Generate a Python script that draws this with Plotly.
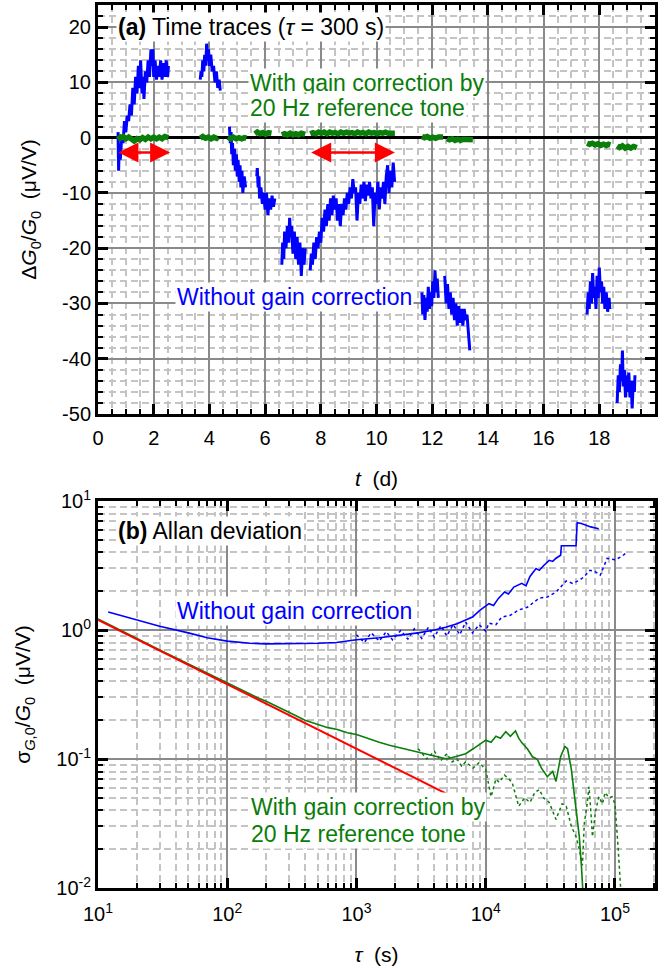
import plotly.graph_objects as go

# ---------------- Panel (a): time traces ----------------
# Blue (without gain correction) segments: (t in days, dG/G in uV/V)
b1_t = [0.72, 0.74, 0.76, 0.80, 0.85, 0.90, 0.95, 1.00, 1.05, 1.10, 1.15, 1.20, 1.25, 1.30, 1.35, 1.40, 1.45, 1.50, 1.53, 1.58, 1.62, 1.65, 1.70, 1.75, 1.80, 1.85, 1.90, 1.93, 1.97, 2.00, 2.05, 2.10, 2.15, 2.20, 2.25, 2.30, 2.35, 2.40, 2.45, 2.50, 2.53]
b1_v = [1, -6, -2, -4, 0, -1, 3, 1, 4, 3, 6, 4, 9, 6, 11, 8, 13, 9, 14, 8, 11, 7, 12, 10, 14, 11, 16, 13, 16, 11, 14, 10.5, 13, 11, 14, 10.5, 13.5, 11, 14, 11, 13]
b2_t = [3.67, 3.70, 3.73, 3.76, 3.80, 3.83, 3.87, 3.90, 3.93, 3.97, 4.00, 4.05, 4.10, 4.15, 4.20, 4.25, 4.30, 4.35, 4.39]
b2_v = [10.5, 12, 11, 14, 12, 15, 13, 17, 14, 16, 13, 15, 12, 13, 10, 12, 9, 10.5, 8.5]
b3_t = [4.72, 4.75, 4.78, 4.80, 4.83, 4.86, 4.90, 4.93, 4.97, 5.00, 5.03, 5.07, 5.10, 5.13, 5.17, 5.20, 5.25, 5.30]
b3_v = [2, -1, 1, -3, -1, -5, -2, -6, -3, -7, -4, -8, -5, -9, -6, -10, -7, -9]
b4_t = [5.70, 5.72, 5.75, 5.78, 5.80, 5.85, 5.90, 5.95, 6.00, 6.05, 6.10, 6.15, 6.20, 6.25, 6.30, 6.35]
b4_v = [-7, -5.5, -9, -7, -11, -9, -12, -10, -13, -10, -14, -11, -13, -10.5, -12.5, -11]
b5_t = [6.60, 6.63, 6.67, 6.70, 6.75, 6.80, 6.85, 6.88, 6.92, 6.95, 7.00, 7.05, 7.10, 7.15, 7.20, 7.25, 7.30, 7.35, 7.40, 7.44]
b5_v = [-23, -19, -22, -17, -20, -16, -19, -14.5, -18, -16, -21, -17, -22, -18, -23, -19, -25, -20, -23, -20]
b6_t = [7.62, 7.66, 7.70, 7.75, 7.80, 7.85, 7.90, 7.95, 8.00, 8.05, 8.10, 8.15, 8.20, 8.25, 8.30, 8.35, 8.40, 8.45, 8.50, 8.55, 8.60, 8.65, 8.70, 8.75, 8.80, 8.85, 8.90, 8.95, 9.00, 9.05, 9.10, 9.15, 9.20, 9.25, 9.30, 9.35, 9.40, 9.45, 9.50, 9.55, 9.60, 9.65, 9.70, 9.75, 9.80, 9.85, 9.90, 9.95, 10.00, 10.05, 10.10, 10.15, 10.20, 10.25, 10.30, 10.35, 10.40, 10.45, 10.50, 10.55, 10.60, 10.65]
b6_v = [-24, -21, -23, -19, -22, -18, -20, -17, -19, -14.5, -17, -13, -16, -12, -15, -11, -14, -10.5, -13, -11, -15, -12, -16, -12, -14, -11, -13, -10, -12, -9, -11, -7.5, -10, -9, -15, -10, -12, -8.5, -11, -8, -11.5, -8.5, -10.5, -8, -11, -9, -16, -10, -12, -8, -13, -9, -11, -8, -12, -7, -5, -10, -6, -9, -4.5, -8]
b7_t = [11.63, 11.66, 11.70, 11.74, 11.78, 11.82, 11.86, 11.90, 11.94, 11.98, 12.02, 12.06, 12.10, 12.14, 12.18, 12.22]
b7_v = [-28, -32, -28.5, -33, -29, -31.5, -27, -31, -28, -30.5, -26, -29, -24, -28, -25.5, -29]
b8_t = [12.45, 12.50, 12.55, 12.60, 12.65, 12.70, 12.75, 12.80, 12.85, 12.90, 12.95, 13.00, 13.05, 13.10, 13.15, 13.20, 13.25, 13.30, 13.35]
b8_v = [-25, -30, -26.5, -31, -28, -32, -29, -33, -30, -34, -30.5, -33.5, -31, -34, -31, -33, -32, -36, -38.5]
b9_t = [17.56, 17.60, 17.64, 17.68, 17.72, 17.76, 17.80, 17.84, 17.88, 17.92, 17.96, 18.00, 18.04, 18.08, 18.12, 18.16, 18.20, 18.25, 18.30, 18.35, 18.38]
b9_v = [-32, -28, -31, -26, -30, -24.5, -29, -27, -31, -25, -29, -23.5, -28, -26, -30, -27, -31, -28, -31.5, -29, -31]
b10_t = [18.64, 18.68, 18.72, 18.76, 18.80, 18.83, 18.86, 18.90, 18.94, 18.98, 19.02, 19.06, 19.10, 19.14, 19.18, 19.22, 19.26, 19.28]
b10_v = [-48, -43, -46, -41, -44, -38.5, -45, -42, -47, -43, -46, -42.5, -47, -44, -49, -44, -46, -43]

# Green (with gain correction) segments
g1_t = [0.72, 0.80, 0.90, 1.00, 1.10, 1.20, 1.30, 1.40, 1.50, 1.60, 1.70, 1.80, 1.90, 2.00, 2.10, 2.20, 2.30, 2.40, 2.53]
g1_v = [0.4, -0.1, 0.2, -0.2, 0.1, -0.4, -0.6, -0.2, -0.4, 0.0, -0.3, 0.1, -0.2, 0.1, -0.2, 0.1, -0.2, 0.2, 0.0]
g2_t = [3.67, 3.76, 3.86, 3.96, 4.06, 4.16, 4.26, 4.30]
g2_v = [-0.1, 0.2, -0.1, 0.1, -0.2, 0.1, -0.1, 0.1]
g3_t = [4.67, 4.76, 4.86, 4.96, 5.06, 5.16, 5.26, 5.33]
g3_v = [0.1, -0.2, 0.1, -0.2, 0.0, -0.2, 0.0, -0.1]
g4_t = [5.63, 5.72, 5.82, 5.92, 6.02, 6.12, 6.23]
g4_v = [0.7, 1.0, 0.7, 0.9, 0.6, 0.9, 0.8]
g5_t = [6.60, 6.70, 6.80, 6.90, 7.00, 7.10, 7.20, 7.30, 7.44]
g5_v = [0.5, 0.7, 0.5, 0.8, 0.5, 0.7, 0.5, 0.8, 0.6]
g6_t = [7.62, 7.72, 7.82, 7.92, 8.02, 8.12, 8.22, 8.32, 8.42, 8.52, 8.62, 8.72, 8.82, 8.92, 9.02, 9.12, 9.22, 9.32, 9.42, 9.52, 9.62, 9.72, 9.82, 9.92, 10.02, 10.12, 10.22, 10.32, 10.42, 10.52, 10.66]
g6_v = [0.7, 0.9, 0.7, 1.0, 0.8, 1.0, 0.7, 1.0, 0.8, 0.9, 0.7, 1.0, 0.8, 1.0, 0.8, 0.9, 0.7, 1.0, 0.8, 0.9, 0.7, 1.0, 0.8, 0.9, 0.7, 0.9, 0.8, 1.0, 0.8, 0.9, 0.8]
g7_t = [11.63, 11.72, 11.82, 11.92, 12.02, 12.12, 12.22, 12.32, 12.39]
g7_v = [0.2, 0.0, 0.2, -0.1, 0.1, -0.1, 0.1, 0.0, 0.1]
g8_t = [12.53, 12.62, 12.72, 12.82, 12.92, 13.02, 13.12, 13.22, 13.32, 13.46]
g8_v = [-0.2, -0.4, -0.2, -0.5, -0.3, -0.5, -0.3, -0.4, -0.3, -0.4]
g9_t = [17.56, 17.65, 17.75, 17.85, 17.95, 18.05, 18.15, 18.25, 18.33, 18.40]
g9_v = [-1.0, -1.2, -1.0, -1.3, -1.1, -1.4, -1.2, -1.4, -1.2, -1.3]
g10_t = [18.64, 18.73, 18.83, 18.93, 19.03, 19.13, 19.23, 19.35]
g10_v = [-1.5, -1.8, -1.5, -1.9, -1.6, -1.9, -1.6, -1.8]

# Red double arrows (t range, level)
arrow_t0 = [0.68, 7.60]
arrow_t1 = [2.59, 10.66]
arrow_v = [-2.7, -2.7]

# Tick labels (hyphen-minus as in the reference)
top_y_ticks = [-50, -40, -30, -20, -10, 0, 10, 20]
top_y_text = ["-50", "-40", "-30", "-20", "-10", "0", "10", "20"]
top_x_ticks = [0, 2, 4, 6, 8, 10, 12, 14, 16, 18, 20]
bot_x_ticks = [10, 100, 1000, 10000, 100000]
bot_x_text = ["10<sup>1</sup>", "10<sup>2</sup>", "10<sup>3</sup>", "10<sup>4</sup>", "10<sup>5</sup>"]
bot_y_ticks = [0.01, 0.1, 1, 10]
bot_y_text = ["10<sup>-2</sup>", "10<sup>-1</sup>", "10<sup>0</sup>", "10<sup>1</sup>"]

# ---------------- Panel (b): Allan deviation ----------------
blueA_tau = [12, 15, 20, 30, 50, 70, 100, 150, 200, 300, 500, 700, 1000, 1500, 2000, 3000, 4000, 4900, 6000, 7000, 7900, 9000, 10600, 11500, 12500, 14000, 15000, 16500, 19000, 20500, 22000, 24500, 26000, 28000, 31000, 33000, 35000, 38000, 38500, 45000, 50000, 51000, 55000, 65000, 75000]
blueA_sig = [1.38, 1.30, 1.20, 1.07, 0.95, 0.87, 0.82, 0.79, 0.78, 0.78, 0.79, 0.80, 0.84, 0.87, 0.90, 0.95, 1.00, 1.05, 1.12, 1.20, 1.26, 1.42, 1.60, 1.55, 1.75, 1.97, 1.90, 2.15, 2.30, 2.20, 2.60, 3.00, 2.90, 3.15, 3.47, 3.40, 3.60, 3.80, 4.50, 4.50, 4.50, 6.80, 6.70, 6.30, 6.10]
blueB_tau = [1000, 1150, 1300, 1500, 1700, 1900, 2200, 2500, 2800, 3200, 3600, 4000, 4500, 5000, 5600, 6300, 7000, 7900, 8900, 10000, 10600, 12000, 13300, 15500, 18000, 21000, 26000, 30000, 35000, 42000, 47000, 53000, 58000, 64000, 70000, 77000, 87000, 100000, 112000, 124000]
blueB_sig = [0.92, 0.80, 0.95, 0.82, 0.97, 0.84, 0.99, 0.85, 1.02, 0.86, 1.05, 0.88, 1.08, 0.90, 1.10, 0.92, 1.15, 0.95, 1.10, 0.98, 1.13, 1.10, 1.26, 1.30, 1.43, 1.50, 1.77, 1.80, 1.97, 2.40, 2.30, 2.43, 2.60, 2.90, 2.85, 2.66, 3.60, 3.50, 3.70, 4.00]
greenA_tau = [10, 15, 20, 30, 50, 70, 100, 130, 170, 200, 250, 300, 400, 500, 600, 700, 850, 1000, 1200, 1500, 1800, 2200, 2700, 3300, 4000, 5000, 6000, 7000, 8000, 9000, 10000, 11000, 12000, 13000, 14300, 15500, 17000, 18000, 19000, 21000, 23000, 25000, 27000, 30000, 33000, 35000, 38000, 41000, 43000, 46000, 49000, 51000, 53000, 55000, 57000]
greenA_sig = [1.22, 1.00, 0.86, 0.70, 0.545, 0.46, 0.385, 0.34, 0.30, 0.28, 0.25, 0.23, 0.20, 0.185, 0.175, 0.17, 0.16, 0.155, 0.145, 0.135, 0.128, 0.122, 0.115, 0.11, 0.105, 0.10, 0.105, 0.11, 0.12, 0.13, 0.14, 0.135, 0.15, 0.145, 0.163, 0.15, 0.165, 0.145, 0.134, 0.12, 0.104, 0.10, 0.085, 0.073, 0.08, 0.067, 0.104, 0.125, 0.12, 0.083, 0.05, 0.036, 0.025, 0.015, 0.008]
greenB_tau = [3000, 3500, 4000, 4500, 5000, 5500, 6000, 6500, 7000, 8000, 8900, 10000, 11000, 12000, 12700, 14000, 16000, 18000, 20000, 22000, 24000, 26000, 28000, 31000, 35000, 39000, 42000, 46000, 50000, 53000, 56000, 58000, 61000, 63000, 65000, 67000, 71000, 75000, 80000, 84000, 90000, 95000, 100000, 102000, 106000, 110000, 113000]
greenB_sig = [0.12, 0.10, 0.115, 0.097, 0.11, 0.095, 0.10, 0.088, 0.095, 0.085, 0.094, 0.083, 0.051, 0.07, 0.066, 0.075, 0.066, 0.043, 0.05, 0.046, 0.055, 0.058, 0.05, 0.046, 0.034, 0.045, 0.043, 0.03, 0.025, 0.02, 0.015, 0.032, 0.045, 0.061, 0.04, 0.025, 0.04, 0.051, 0.045, 0.055, 0.05, 0.051, 0.045, 0.032, 0.02, 0.011, 0.007]
red_tau = [10, 5000]
red_sig = [1.2, 0.0537]

BLUE = "#0000ff"
GREEN = "#0a7d0a"
RED = "#ff0000"
FONT = "Liberation Sans, Arial, sans-serif"


def join(segs):
    xs, ys = [], []
    for t, v in segs:
        xs += t + [None]
        ys += v + [None]
    return xs, ys


bx, by = join([(b1_t, b1_v), (b2_t, b2_v), (b3_t, b3_v), (b4_t, b4_v), (b5_t, b5_v),
               (b6_t, b6_v), (b7_t, b7_v), (b8_t, b8_v), (b9_t, b9_v), (b10_t, b10_v)])
gx, gy = join([(g1_t, g1_v), (g2_t, g2_v), (g3_t, g3_v), (g4_t, g4_v), (g5_t, g5_v),
               (g6_t, g6_v), (g7_t, g7_v), (g8_t, g8_v), (g9_t, g9_v), (g10_t, g10_v)])

fig = go.Figure()
fig.add_trace(go.Scatter(x=bx, y=by, mode="lines", line=dict(color=BLUE, width=3),
                         xaxis="x", yaxis="y", showlegend=False))
fig.add_trace(go.Scatter(x=gx, y=gy, mode="lines", line=dict(color=GREEN, width=5.5),
                         xaxis="x", yaxis="y", showlegend=False))

fig.add_trace(go.Scatter(x=blueB_tau, y=blueB_sig, mode="lines", line=dict(color=BLUE, width=1.5, dash="dot"),
                         xaxis="x2", yaxis="y2", showlegend=False))
fig.add_trace(go.Scatter(x=blueA_tau, y=blueA_sig, mode="lines", line=dict(color=BLUE, width=1.6),
                         xaxis="x2", yaxis="y2", showlegend=False))
fig.add_trace(go.Scatter(x=greenB_tau, y=greenB_sig, mode="lines", line=dict(color=GREEN, width=1.5, dash="dot"),
                         xaxis="x2", yaxis="y2", showlegend=False))
fig.add_trace(go.Scatter(x=greenA_tau, y=greenA_sig, mode="lines", line=dict(color=GREEN, width=1.6),
                         xaxis="x2", yaxis="y2", showlegend=False))
fig.add_trace(go.Scatter(x=red_tau, y=red_sig, mode="lines", line=dict(color=RED, width=2),
                         xaxis="x2", yaxis="y2", showlegend=False))

MAJ_GRID = "#8a8a8a"
MIN_GRID = "#c4c4c4"
DASH = "7px,4px"

common = dict(showline=True, linecolor="black", linewidth=3, mirror="ticks", automargin=False,
              ticks="inside", ticklen=10, tickwidth=2.5, tickcolor="black",
              showgrid=True, gridcolor=MAJ_GRID, gridwidth=2,
              tickfont=dict(family=FONT, size=20, color="black"), zeroline=False)

minor_lin = lambda d: dict(dtick=d, ticks="inside", ticklen=5, tickwidth=2, tickcolor="black",
                           showgrid=True, gridcolor=MIN_GRID, gridwidth=1.5, griddash=DASH)

log_minor_vals = []
for k in range(0, 6):
    for m in range(2, 10):
        log_minor_vals.append(m * 10 ** k)
log_minor_y = []
for k in range(-3, 1):
    for m in range(2, 10):
        log_minor_y.append(m * 10 ** k)

minor_log = lambda vals: dict(tickmode="array", tickvals=vals, ticks="inside", ticklen=5, tickwidth=2,
                              tickcolor="black", showgrid=True, gridcolor=MIN_GRID, gridwidth=1.5, griddash=DASH)

top_dom = [(888 - 414) / 883, 1.0]
bot_dom = [0.0, (888 - 501) / 883]

fig.update_layout(
    width=665, height=969,
    margin=dict(l=98, r=10, t=5, b=81),
    paper_bgcolor="white", plot_bgcolor="white",
    font=dict(family=FONT, size=20, color="black"),
    xaxis=dict(common, domain=[0, 1], anchor="y", range=[0, 20], tickmode="array", tickvals=top_x_ticks,
               ticklabelstandoff=4, minor=minor_lin(0.5),
               title=dict(text="<i>t</i>  (d)", font=dict(family=FONT, size=21), standoff=24)),
    yaxis=dict(common, domain=top_dom, anchor="x", range=[-50, 24], tickmode="array",
               tickvals=top_y_ticks, ticktext=top_y_text,
               minor=dict(minor_lin(2), tick0=0), zeroline=True, zerolinecolor="black", zerolinewidth=3,
               title=dict(text="Δ<i>G</i><sub>0</sub>/<i>G</i><sub>0</sub>  (μV/V)",
                          font=dict(family=FONT, size=21), standoff=20)),
    xaxis2=dict(common, domain=[0, 1], anchor="y2", type="log", range=[1, 5.31],
                tickmode="array", tickvals=bot_x_ticks, ticktext=bot_x_text, ticklabelstandoff=6,
                minor=minor_log(log_minor_vals),
                title=dict(text="<i>τ</i>  (s)", font=dict(family=FONT, size=21), standoff=24)),
    yaxis2=dict(common, domain=bot_dom, anchor="x2", type="log", range=[-2, 1],
                tickmode="array", tickvals=bot_y_ticks, ticktext=bot_y_text,
                minor=minor_log(log_minor_y),
                title=dict(text="σ<sub><i>G</i>,0</sub>/<i>G</i><sub>0</sub>  (μV/V)",
                           font=dict(family=FONT, size=21), standoff=20)),
)

ann = []
for a0, a1, av in zip(arrow_t0, arrow_t1, arrow_v):
    ann.append(dict(x=a1, y=av, ax=a0, ay=av, xref="x", yref="y", axref="x", ayref="y", text="",
                    showarrow=True, arrowhead=2, arrowside="end+start", arrowsize=1.6,
                    arrowwidth=2.5, arrowcolor=RED))

txt = dict(showarrow=False, bgcolor="white", borderpad=1, xanchor="left", yanchor="middle")
F = 23
ann.append(dict(txt, x=0.65, y=20.0, xref="x", yref="y",
                text="<b>(a)</b> Time traces (<i>τ</i> = 300 s)", font=dict(family=FONT, size=F, color="black")))
ann.append(dict(txt, x=5.39, y=9.8, xref="x", yref="y",
                text="With gain correction by", font=dict(family=FONT, size=F, color=GREEN)))
ann.append(dict(txt, x=5.39, y=5.4, xref="x", yref="y",
                text="20 Hz reference tone", font=dict(family=FONT, size=F, color=GREEN)))
ann.append(dict(txt, x=2.76, y=-28.9, xref="x", yref="y",
                text="Without gain correction", font=dict(family=FONT, size=F, color=BLUE)))
ann.append(dict(txt, x=1.139, y=0.765, xref="x2", yref="y2",
                text="<b>(b)</b> Allan deviation", font=dict(family=FONT, size=F, color="black")))
ann.append(dict(txt, x=1.595, y=0.147, xref="x2", yref="y2",
                text="Without gain correction", font=dict(family=FONT, size=F, color=BLUE)))
ann.append(dict(txt, x=2.166, y=-1.375, xref="x2", yref="y2",
                text="With gain correction by", font=dict(family=FONT, size=F, color=GREEN)))
ann.append(dict(txt, x=2.166, y=-1.583, xref="x2", yref="y2",
                text="20 Hz reference tone", font=dict(family=FONT, size=F, color=GREEN)))
fig.update_layout(annotations=ann)

fig.write_html("out.html")
